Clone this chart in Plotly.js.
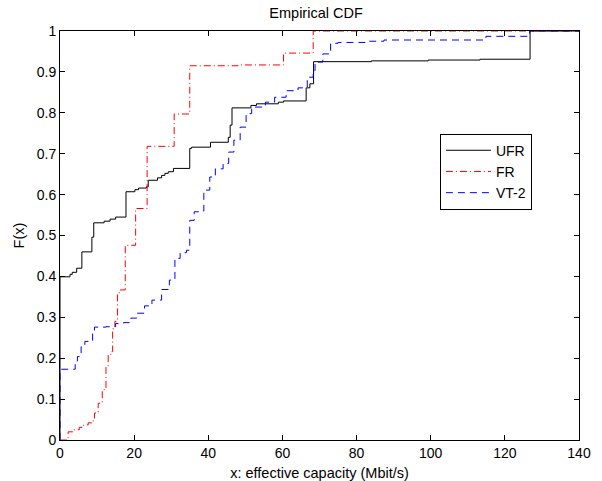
<!DOCTYPE html>
<html>
<head>
<meta charset="utf-8">
<script src="https://cdn.plot.ly/plotly-3.0.1.min.js"></script>
<style>html,body{margin:0;padding:0;background:#fff;}#chart{width:602px;height:481px;}</style>
</head>
<body>
<div id="chart"></div>
<script>
// UFR empirical CDF (step points)
const ufrX = [0, 0, 2.7, 3.3, 4.5, 5.9, 8.6, 9.1, 11.9, 13.5, 15.0, 17.8, 20.2, 21.2, 23.3, 23.8, 26.3, 27.4, 28.3, 29.2, 30.6, 35.0, 35.5, 40.6, 45.4, 45.9, 46.4, 51.5, 53.0, 58.9, 60.3, 66.4, 67.4, 68.4, 84.0, 99.3, 113.3, 126.8, 140];
const ufrY = [0, 0.399, 0.405, 0.410, 0.420, 0.460, 0.496, 0.531, 0.535, 0.540, 0.545, 0.607, 0.612, 0.616, 0.619, 0.635, 0.641, 0.647, 0.652, 0.656, 0.664, 0.713, 0.716, 0.728, 0.740, 0.770, 0.812, 0.818, 0.822, 0.826, 0.829, 0.861, 0.871, 0.925, 0.927, 0.929, 0.931, 1.0, 1.0];

// FR empirical CDF
const frX = [0, 2.2, 3.6, 5.2, 6.4, 7.6, 8.8, 9.3, 10.3, 11.4, 12.4, 13.0, 13.7, 14.2, 14.8, 15.5, 16.3, 17.6, 20.4, 23.5, 30.8, 35.0, 48.0, 60.3, 68.3, 140];
const frY = [0, 0.020, 0.025, 0.031, 0.037, 0.042, 0.047, 0.066, 0.090, 0.123, 0.180, 0.208, 0.216, 0.272, 0.290, 0.360, 0.367, 0.476, 0.566, 0.718, 0.797, 0.915, 0.917, 0.946, 1.0, 1.0];

// VT-2 empirical CDF
const vtX = [0, 0, 4.1, 4.7, 5.7, 6.7, 8.8, 9.3, 12.4, 15.0, 17.1, 19.1, 20.7, 22.8, 24.8, 27.4, 29.5, 31.0, 32.4, 34.1, 35.0, 36.2, 37.8, 38.8, 40.4, 41.9, 44.0, 45.5, 46.9, 48.6, 50.2, 51.7, 55.4, 57.9, 61.0, 64.2, 66.7, 68.3, 68.8, 70.9, 73.0, 75.0, 82.3, 87.4, 114.9, 126.7, 140];
const vtY = [0, 0.173, 0.190, 0.204, 0.228, 0.241, 0.261, 0.276, 0.277, 0.285, 0.287, 0.298, 0.310, 0.328, 0.342, 0.368, 0.391, 0.444, 0.458, 0.464, 0.537, 0.558, 0.560, 0.611, 0.643, 0.663, 0.676, 0.704, 0.733, 0.765, 0.798, 0.814, 0.826, 0.838, 0.854, 0.861, 0.887, 0.903, 0.924, 0.944, 0.970, 0.972, 0.975, 0.978, 0.987, 1.0, 1.0];

const xTicks = [0, 20, 40, 60, 80, 100, 120, 140];
const yTicks = [0, 0.1, 0.2, 0.3, 0.4, 0.5, 0.6, 0.7, 0.8, 0.9, 1];
const yTickText = ['0', '0.1', '0.2', '0.3', '0.4', '0.5', '0.6', '0.7', '0.8', '0.9', '1'];

const font = 'Liberation Sans, Arial, Helvetica, sans-serif';

const traces = [
  {x: ufrX, y: ufrY, name: 'UFR', mode: 'lines', line: {shape: 'hv', color: '#000000', width: 1}, legendgroup: 'a'},
  {x: frX, y: frY, name: 'FR', mode: 'lines', line: {shape: 'hv', color: '#ff0000', width: 1, dash: '7px,3px,1px,3px'}, legendgroup: 'b'},
  {x: vtX, y: vtY, name: 'VT-2', mode: 'lines', line: {shape: 'hv', color: '#0000ff', width: 1, dash: '7px,5px'}, legendgroup: 'c'}
];

const axisCommon = {
  showline: true, linecolor: '#000', linewidth: 1, mirror: 'ticks',
  ticks: 'inside', ticklen: 5, tickwidth: 1, tickcolor: '#000',
  showgrid: false, zeroline: false, layer: 'below traces',
  tickfont: {family: font, size: 14, color: '#000'}
};

const layout = {
  width: 602, height: 481,
  margin: {l: 60, r: 23, t: 31, b: 41},
  paper_bgcolor: '#fff', plot_bgcolor: '#fff',
  font: {family: font, size: 14, color: '#000'},
  title: {text: 'Empirical CDF', font: {family: font, size: 14.5, color: '#000'}, x: 0.525, xref: 'container', y: 0.973, yref: 'container', yanchor: 'middle'},
  xaxis: Object.assign({}, axisCommon, {
    range: [0, 140], tickvals: xTicks, ticktext: xTicks.map(String),
    title: {text: 'x: effective capacity (Mbit/s)', font: {family: font, size: 14.5, color: '#000'}, standoff: 8}
  }),
  yaxis: Object.assign({}, axisCommon, {
    range: [0, 1], tickvals: yTicks, ticktext: yTickText,
    title: {text: 'F(x)', font: {family: font, size: 14.5, color: '#000'}, standoff: 8}
  }),
  showlegend: true,
  legend: {
    x: 0.732, y: 0.749, xanchor: 'left', yanchor: 'top',
    bordercolor: '#000', borderwidth: 1, bgcolor: '#fff',
    font: {family: font, size: 14, color: '#000'},
    tracegroupgap: 2, traceorder: 'normal', itemwidth: 45
  }
};

Plotly.newPlot('chart', traces, layout, {displayModeBar: false, staticPlot: true});
</script>
</body>
</html>
